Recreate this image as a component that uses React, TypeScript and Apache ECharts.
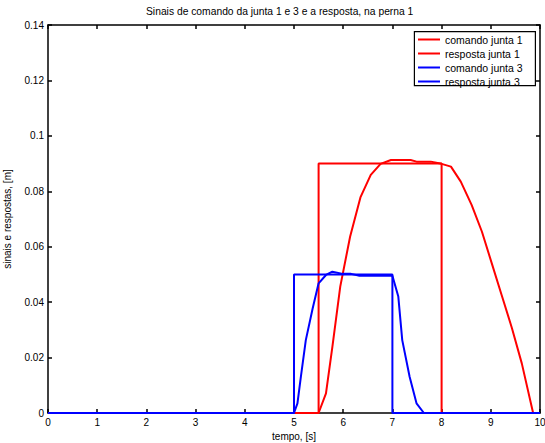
import React, { useEffect, useRef } from "react";
import * as echarts from "echarts";

const titleText = "Sinais de comando da junta 1 e 3 e a resposta, na perna 1";
const xName = "tempo, [s]";
const yName = "sinais e respostas, [m]";
const seriesNames = ["comando junta 1", "resposta junta 1", "comando junta 3", "resposta junta 3"];

const cmd1X = [0, 5.5, 5.5, 8.0, 8.0, 10];
const cmd1Y = [0, 0, 0.09, 0.09, 0, 0];

const resp1X = [0, 5.5, 5.65, 5.78, 5.94, 6.14, 6.35, 6.56, 6.76, 6.97, 7.37, 7.49, 7.78, 8.0, 8.19, 8.39, 8.61, 8.82, 9.02, 9.22, 9.43, 9.63, 9.86, 10];
const resp1Y = [0, 0, 0.0071, 0.0239, 0.0456, 0.0636, 0.0778, 0.0859, 0.0899, 0.0913, 0.0913, 0.0907, 0.0907, 0.0899, 0.0889, 0.0835, 0.0751, 0.0654, 0.054, 0.0426, 0.0306, 0.0179, 0.0, 0];

const cmd3X = [0, 5.0, 5.0, 7.0, 7.0, 10];
const cmd3Y = [0, 0, 0.05, 0.05, 0, 0];

const resp3X = [0, 5.0, 5.07, 5.14, 5.24, 5.38, 5.5, 5.65, 5.78, 5.99, 6.16, 6.33, 7.0, 7.12, 7.2, 7.35, 7.49, 7.64, 10];
const resp3Y = [0, 0, 0.0035, 0.0131, 0.0263, 0.0378, 0.0468, 0.0498, 0.051, 0.0502, 0.0502, 0.0495, 0.0495, 0.042, 0.0263, 0.0131, 0.0035, 0, 0];

const colors = ["#ff0000", "#ff0000", "#0000ff", "#0000ff"];

const zip = (xs: number[], ys: number[]) => xs.map((x, i) => [x, ys[i]]);

export default function App() {
  const ref = useRef<HTMLDivElement>(null);
  useEffect(() => {
    if (!ref.current) return;
    const chart = echarts.init(ref.current, null, { renderer: "svg" });
    const font = "Liberation Sans, Arial, sans-serif";
    const axisLine = { show: true, onZero: false, lineStyle: { color: "#000", width: 1.5 } };
    const tick = { show: true, inside: true, length: 4, lineStyle: { color: "#000", width: 1.5 } };
    const datas = [zip(cmd1X, cmd1Y), zip(resp1X, resp1Y), zip(cmd3X, cmd3Y), zip(resp3X, resp3Y)];
    chart.setOption({
      animation: false,
      backgroundColor: "#fff",
      textStyle: { fontFamily: font },
      title: {
        text: titleText,
        left: 146,
        top: 6,
        padding: 0,
        textStyle: { fontSize: 10.3, fontWeight: "normal", color: "#000", fontFamily: font },
      },
      graphic: [
        {
          type: "rect",
          right: 9,
          top: 31,
          z: 10,
          shape: { x: 0, y: 0, width: 121, height: 54 },
          style: { fill: "#fff", stroke: "#000", lineWidth: 1.2 },
        },
      ],
      legend: {
        orient: "vertical",
        left: 414,
        top: 31,
        z: 20,
        data: seriesNames,
        icon: "rect",
        itemWidth: 22,
        itemHeight: 2,
        itemGap: 3,
        padding: [3, 4, 0, 4],
        textStyle: { fontSize: 10.5, color: "#000", fontFamily: font },
      },
      grid: { left: 48, right: 5, top: 25, bottom: 30, outerBoundsMode: "none", containLabel: false },
      xAxis: [
        {
          type: "value",
          min: 0,
          max: 10,
          interval: 1,
          name: xName,
          nameLocation: "middle",
          nameGap: 17,
          nameTextStyle: { fontSize: 10, color: "#000", fontFamily: font },
          axisLine,
          axisTick: tick,
          splitLine: { show: false },
          axisLabel: { fontSize: 10, color: "#000", margin: 4, fontFamily: font },
        },
        {
          type: "value",
          position: "top",
          min: 0,
          max: 10,
          interval: 1,
          axisLine,
          axisTick: tick,
          splitLine: { show: false },
          axisLabel: { show: false },
        },
      ],
      yAxis: [
        {
          type: "value",
          min: 0,
          max: 0.14,
          interval: 0.02,
          name: yName,
          nameLocation: "middle",
          nameGap: 36,
          nameTextStyle: { fontSize: 10, color: "#000", fontFamily: font },
          axisLine,
          axisTick: tick,
          splitLine: { show: false },
          axisLabel: { fontSize: 10, color: "#000", margin: 4, fontFamily: font },
        },
        {
          type: "value",
          position: "right",
          min: 0,
          max: 0.14,
          interval: 0.02,
          axisLine,
          axisTick: tick,
          splitLine: { show: false },
          axisLabel: { show: false },
        },
      ],
      series: seriesNames.map((name, i) => ({
        name,
        type: "line",
        data: datas[i],
        showSymbol: false,
        symbol: "none",
        lineStyle: { color: colors[i], width: 2 },
        itemStyle: { color: colors[i] },
        xAxisIndex: 0,
        yAxisIndex: 0,
      })),
    });
    return () => chart.dispose();
  }, []);
  return <div ref={ref} style={{ width: 545, height: 443, position: "absolute", left: 0, top: 0 }} />;
}
